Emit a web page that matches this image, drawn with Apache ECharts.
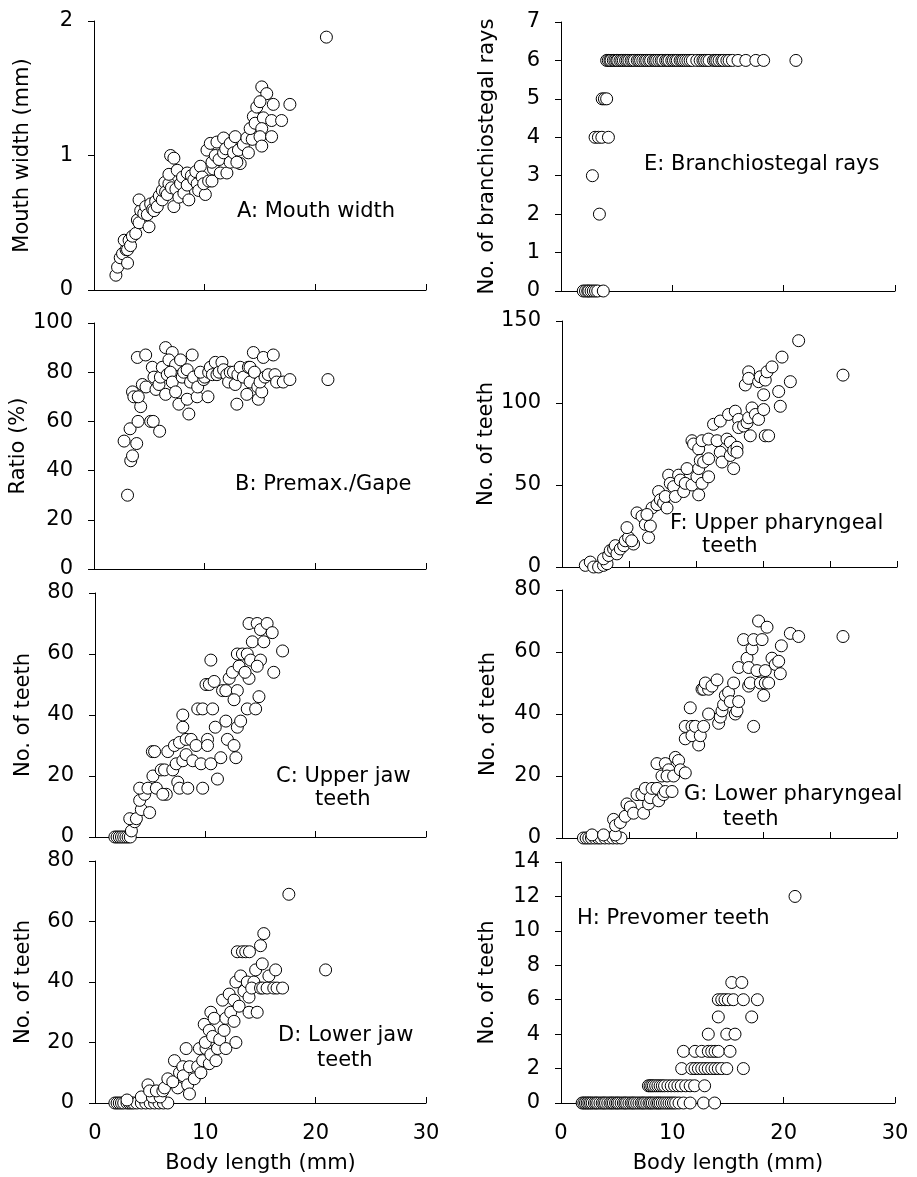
<!DOCTYPE html>
<html>
<head>
<meta charset="utf-8">
<script src="https://cdn.jsdelivr.net/npm/echarts@6/dist/echarts.min.js"></script>
<style>
  html, body { margin: 0; padding: 0; background: #fff; }
  #chart { width: 917px; height: 1177px; }
</style>
</head>
<body>
<div id="chart"></div>
<script>
// Body length (mm) vs. trait, one [length, value] pair per fish.
const mouthWidth = [
  [1.98,0.11],[2.13,0.17],[2.37,0.24],[2.58,0.27],[3.03,0.20],[2.9,0.30],[2.73,0.37],[3.03,0.30],[3.17,0.37],[3.3,0.33],
  [3.47,0.40],[3.77,0.42],[3.92,0.52],[4.07,0.50],[4.97,0.47],[4.22,0.59],[4.07,0.67],[4.5,0.57],[4.67,0.62],[4.82,0.56],
  [5.12,0.64],[5.3,0.60],[5.42,0.59],[5.57,0.66],[5.72,0.62],[5.9,0.70],[6.17,0.67],[6.17,0.74],[6.4,0.80],[6.47,0.73],
  [6.62,0.71],[6.77,0.79],[7.0,0.76],[7.22,0.62],[6.77,0.86],[6.92,1.00],[7.22,0.98],[7.4,0.75],[7.52,0.89],[7.82,0.79],
  [7.67,0.69],[8.0,0.84],[8.12,0.72],[8.42,0.87],[8.57,0.67],[8.42,0.78],[8.8,0.85],[9.02,0.82],[9.2,0.88],[9.32,0.79],
  [9.46,0.74],[9.61,0.92],[9.77,0.84],[10.06,0.71],[9.91,0.79],[10.36,0.81],[10.66,0.81],[10.8,0.90],[10.21,1.04],[10.51,1.09],
  [10.66,0.95],[10.96,1.00],[11.11,1.10],[11.3,0.97],[11.71,1.13],[11.41,0.87],[12.01,0.87],[11.71,1.02],[11.9,1.05],[12.3,0.95],
  [12.31,1.09],[12.76,1.14],[12.61,1.02],[13.05,1.04],[13.21,0.94],[12.91,0.95],[13.5,1.08],[13.95,1.02],[13.81,1.13],[14.3,1.12],
  [14.11,1.20],[14.40,1.29],[14.71,1.36],[14.56,1.24],[15.16,1.51],[15.61,1.46],[15.0,1.40],[16.2,1.38],[15.3,1.28],[16.05,1.26],
  [15.16,1.20],[15.0,1.14],[16.05,1.14],[15.16,1.07],[16.95,1.26],[17.70,1.38],[21.0,1.88]
];

const premaxGape = [
  [3.03,30],[3.32,44],[3.48,46],[2.72,52],[3.86,51],[3.26,57],[3.98,60],[5.12,60],[5.35,60],[5.93,56],
  [4.22,66],[3.48,72],[3.6,70],[4.0,70],[4.37,75],[4.7,74],[3.92,86],[4.67,87],[5.27,82],[5.42,78],
  [5.6,73],[5.87,75],[6.0,78],[6.17,82],[6.47,90],[7.07,88],[6.77,85],[7.37,83],[7.82,85],[8.87,87],
  [6.62,79],[6.9,80],[7.07,76],[6.47,71],[7.37,72],[7.67,67],[8.57,63],[8.42,69],[7.97,78],[8.1,80],
  [8.42,81],[8.72,76],[9.0,78],[9.32,70],[9.37,74],[9.91,77],[10.0,78],[10.3,70],[9.61,80],[10.36,80],
  [10.51,82],[10.7,79],[10.96,84],[11.11,79],[11.3,80],[11.56,84],[11.71,81],[12.0,79],[12.16,76],[12.31,80],
  [12.6,80],[12.91,67],[12.76,75],[13.0,79],[13.21,82],[13.5,78],[13.81,71],[13.95,82],[14.1,82],[14.40,88],
  [14.1,76],[14.5,80],[14.8,74],[14.85,69],[15.16,72],[15.0,76],[15.45,78],[15.3,86],[16.2,87],[15.75,79],
  [16.35,79],[16.5,76],[17.1,76],[17.7,77],[21.14,77]
];

const upperJawTeeth = [
  [1.8,0],[2.0,0],[2.2,0],[2.4,0],[2.6,0],[2.8,0],[3.0,0],[3.2,0],
  [3.3,2],[3.6,5],[3.15,6],[3.75,6],[4.2,9],[4.95,8],[4.05,12],[4.5,14],[4.05,16],[4.8,16],[5.56,16],[5.25,20],
  [6.0,22],[6.3,22],[6.46,14],[6.15,14],[5.2,28],[5.4,28],[6.6,28],[7.05,22],[7.36,24],[7.5,18],
  [7.2,30],[7.66,31],[7.96,25],[7.66,16],[8.41,16],[7.96,36],[7.96,40],[8.26,32],[8.71,32],[8.26,27],
  [8.86,25],[9.16,30],[9.61,24],[9.76,16],[9.31,42],[9.76,42],[10.66,42],[10.2,32],[10.2,30],[10.5,24],
  [10.9,36],[11.1,19],[11.4,26],[11.86,38],[12.0,32],[12.6,30],[12.77,26],[12.9,36],[13.2,38],[13.8,42],
  [14.56,42],[14.86,46],[10.06,50],[10.36,50],[10.8,51],[11.56,48],[11.86,48],[12.16,52],[12.46,54],[12.9,48],
  [12.6,45],[13.06,56],[13.96,52],[13.6,54],[12.9,60],[13.36,60],[13.8,60],[14.26,64],[14.1,58],[15.0,58],
  [14.7,56],[15.3,64],[13.96,70],[14.7,70],[15.0,68],[15.6,70],[16.06,67],[16.2,54],[17.0,61],[10.5,58]
];

const lowerJawTeeth = [
  [1.8,0],[2.0,0],[2.2,0],[2.4,0],[2.6,0],[2.9,0],[3.1,0],[3.3,0],[3.5,0],[3.8,0],
  [4.2,0],[4.6,0],[5.0,0],[5.4,0],[5.8,0],[6.2,0],[6.6,0],
  [2.9,1],[4.2,2],[5.2,2],[5.9,2],[4.8,6],[4.95,4],[5.56,4],[6.15,4],[6.3,5],[6.6,8],[7.5,5],
  [7.2,14],[7.05,7],[7.66,10],[7.96,12],[8.0,9],[8.26,18],[8.4,6],[8.56,3],[8.56,12],[9.0,8],
  [9.3,12],[9.46,18],[9.6,10],[10.06,18],[9.76,14],[10.36,13],[10.5,16],[10.96,14],[11.1,18],[10.0,20],
  [9.9,26],[10.36,24],[10.66,22],[10.5,30],[10.8,28],[11.3,21],[11.7,24],[11.86,18],[12.77,20],[11.56,34],
  [12.16,36],[11.86,28],[12.3,30],[12.6,34],[12.6,27],[13.06,32],[12.77,40],[13.2,42],[13.5,37],[13.96,30],
  [14.7,30],[13.96,35],[13.8,40],[14.4,40],[14.2,38],[14.56,44],[15.0,38],[15.2,38],[15.6,38],[15.16,46],
  [15.76,42],[16.2,38],[16.5,38],[16.37,44],[17.0,38],[12.9,50],[13.36,50],[13.66,50],[14.0,50],[15.0,52],
  [15.3,56],[17.57,69],[20.9,44]
];

const branchiostegalRays = [
  [2.0,0],[2.2,0],[2.4,0],[2.5,0],[2.7,0],[2.9,0],[3.1,0],[3.3,0],[3.8,0],
  [3.45,2],[2.82,3],[3.06,4],[3.36,4],[3.67,4],[4.26,4],[3.7,5],[3.9,5],[4.1,5],
  [4.1,6],[4.25,6],[4.4,6],[4.5,6],[4.7,6],[4.85,6],[5.0,6],[5.1,6],[5.3,6],[5.45,6],
  [5.6,6],[5.8,6],[5.95,6],[6.1,6],[6.3,6],[6.45,6],[6.6,6],[6.85,6],[7.0,6],[7.15,6],
  [7.35,6],[7.55,6],[7.7,6],[7.9,6],[8.05,6],[8.3,6],[8.45,6],[8.6,6],[8.8,6],[9.0,6],
  [9.15,6],[9.4,6],[9.55,6],[9.7,6],[9.95,6],[10.1,6],[10.3,6],[10.45,6],[10.7,6],[10.85,6],
  [11.0,6],[11.2,6],[11.4,6],[11.6,6],[11.8,6],[12.2,6],[12.5,6],[12.75,6],[12.9,6],[13.1,6],
  [13.3,6],[13.7,6],[13.85,6],[14.0,6],[14.2,6],[14.45,6],[14.6,6],[14.9,6],[15.1,6],[15.4,6],
  [15.9,6],[16.6,6],[17.5,6],[18.2,6],[21.1,6]
];

const upperPharyngealTeeth = [
  [1.74,1],[2.11,3],[2.36,0],[2.73,0],[3.1,1],[3.36,2],[3.1,5],[3.48,7],[3.6,10],[3.85,11],
  [3.98,13],[4.1,8],[4.35,11],[4.6,13],[4.72,16],[5.34,14],[4.97,18],[5.2,16],[4.85,24],[5.6,33],
  [5.97,31],[6.22,26],[6.46,18],[6.59,25],[6.72,36],[6.34,32],[7.09,38],[7.21,46],[7.34,41],[7.58,39],
  [7.84,36],[7.71,43],[7.96,56],[8.08,51],[8.33,49],[8.46,43],[8.7,56],[8.83,53],[9.08,46],[9.2,51],
  [9.33,60],[9.7,50],[10.07,55],[10.2,44],[10.2,60],[10.45,51],[10.94,55],[9.7,77],[9.82,75],[10.2,72],
  [10.45,77],[10.32,65],[10.57,64],[10.94,66],[10.94,78],[11.31,87],[11.57,77],[11.81,89],[11.81,70],[11.94,64],
  [12.43,93],[12.31,78],[12.56,76],[12.56,68],[12.81,71],[13.06,73],[13.06,70],[12.81,60],[12.93,95],[13.18,90],
  [13.18,85],[13.55,86],[13.81,88],[14.05,80],[13.93,91],[14.18,97],[14.43,93],[14.67,90],[15.17,80],[15.42,80],
  [15.05,96],[15.05,105],[13.68,111],[13.93,119],[13.93,115],[14.67,113],[14.8,116],[15.17,114],[15.3,119],[15.67,122],
  [16.17,107],[16.29,98],[16.42,128],[17.04,113],[17.66,138],[20.97,117]
];

const lowerPharyngealTeeth = [
  [1.6,0],[1.8,0],[2.0,0],[2.2,0],[2.45,0],[2.7,0],[2.9,0],[3.2,0],[3.5,0],[3.8,0],[4.1,0],[4.4,0],
  [2.24,1],[3.1,1],[3.98,1],[3.85,6],[4.0,4],[4.35,5],[4.72,7],[4.85,11],[5.1,10],[5.34,8],
  [5.6,14],[5.97,14],[6.09,8],[6.22,16],[6.46,11],[6.59,13],[6.72,16],[7.09,16],[7.21,12],[7.58,14],
  [7.71,15],[8.21,15],[7.09,24],[7.46,20],[7.71,24],[7.96,22],[7.84,20],[8.33,20],[8.46,26],[8.7,25],
  [8.83,22],[9.2,21],[9.57,42],[9.2,36],[9.2,32],[9.7,36],[9.7,33],[9.95,36],[10.2,30],[10.32,33],
  [10.57,36],[10.94,40],[10.45,48],[10.57,48],[10.94,48],[10.7,50],[11.19,49],[11.57,51],[11.69,37],[11.81,39],
  [11.94,41],[12.06,43],[12.19,46],[12.43,47],[12.56,44],[12.81,50],[12.93,40],[13.06,41],[13.18,44],[13.18,55],
  [13.55,64],[13.81,58],[13.93,55],[14.18,61],[13.93,49],[14.05,50],[14.3,36],[14.3,64],[14.67,70],[14.93,64],
  [15.3,68],[14.55,54],[14.8,50],[15.05,46],[15.17,54],[15.17,50],[15.42,50],[15.67,58],[15.92,56],[16.17,57],
  [16.29,53],[16.37,62],[17.04,66],[17.66,65],[20.97,65]
];

const prevomerTeeth = [
  [1.9,0],[2.05,0],[2.2,0],[2.35,0],[2.5,0],[2.65,0],[2.8,0],[3.0,0],[3.15,0],[3.3,0],
  [3.5,0],[3.7,0],[3.85,0],[4.0,0],[4.2,0],[4.4,0],[4.55,0],[4.7,0],[4.9,0],[5.05,0],
  [5.2,0],[5.4,0],[5.6,0],[5.75,0],[5.9,0],[6.1,0],[6.3,0],[6.45,0],[6.6,0],[6.8,0],
  [7.0,0],[7.2,0],[7.35,0],[7.5,0],[7.7,0],[7.9,0],[8.05,0],[8.2,0],[8.4,0],[8.6,0],
  [8.75,0],[8.9,0],[9.1,0],[9.3,0],[9.5,0],[9.7,0],[9.9,0],[10.1,0],[10.3,0],[10.6,0],
  [11.0,0],[11.6,0],[12.8,0],[13.8,0],
  [7.85,1],[8.0,1],[8.15,1],[8.3,1],[8.5,1],[8.7,1],[8.9,1],[9.1,1],[9.3,1],[9.6,1],
  [9.9,1],[10.2,1],[10.5,1],[10.8,1],[11.2,1],[11.6,1],[12.0,1],[12.9,1],
  [10.84,2],[11.74,2],[12.04,2],[12.34,2],[12.64,2],[12.94,2],[13.23,2],[13.54,2],[13.84,2],[14.13,2],
  [14.44,2],[14.89,2],[16.38,2],
  [11.0,3],[12.04,3],[12.64,3],[13.23,3],[13.54,3],[13.84,3],[14.13,3],[15.18,3],
  [13.23,4],[14.89,4],[15.63,4],
  [14.13,5],[17.13,5],
  [14.13,6],[14.44,6],[14.73,6],[15.03,6],[15.48,6],[16.38,6],[17.64,6],
  [15.34,7],[16.24,7],
  [21.02,12]
];

const yTitles = ['Mouth width (mm)', 'Ratio (%)', 'No. of teeth', 'No. of teeth',
                 'No. of branchiostegal rays', 'No. of teeth', 'No. of teeth', 'No. of teeth'];
const xTitle = 'Body length (mm)';

const FONT = 'DejaVu Sans';
const FS = 21;

const panels = [
  { data: mouthWidth,           grid: { left: 94,  top: 21,  width: 332, height: 269 }, xMax: 30, xInt: 10, yMax: 2,   yInt: 1,  bottom: false },
  { data: premaxGape,           grid: { left: 94,  top: 323, width: 332, height: 246 }, xMax: 30, xInt: 10, yMax: 100, yInt: 20, bottom: false },
  { data: upperJawTeeth,        grid: { left: 95,  top: 593, width: 331, height: 244 }, xMax: 30, xInt: 10, yMax: 80,  yInt: 20, bottom: false },
  { data: lowerJawTeeth,        grid: { left: 95,  top: 861, width: 331, height: 242 }, xMax: 30, xInt: 10, yMax: 80,  yInt: 20, bottom: true },
  { data: branchiostegalRays,   grid: { left: 561, top: 22,  width: 334, height: 269 }, xMax: 30, xInt: 10, yMax: 7,   yInt: 1,  bottom: false },
  { data: upperPharyngealTeeth, grid: { left: 562, top: 321, width: 335, height: 246 }, xMax: 25, xInt: 5,  yMax: 150, yInt: 50, bottom: false },
  { data: lowerPharyngealTeeth, grid: { left: 562, top: 590, width: 335, height: 248 }, xMax: 25, xInt: 5,  yMax: 80,  yInt: 20, bottom: false },
  { data: prevomerTeeth,        grid: { left: 561, top: 862, width: 334, height: 241 }, xMax: 30, xInt: 10, yMax: 14,  yInt: 2,  bottom: true }
];

// Panel captions: [text, left x, middle y]
const captions = [
  ['A: Mouth width', 237, 212],
  ['B: Premax./Gape', 235, 485],
  ['C: Upper jaw', 276, 777], ['teeth', 315, 800],
  ['D: Lower jaw', 278, 1036], ['teeth', 317, 1061],
  ['E: Branchiostegal rays', 644, 165],
  ['F: Upper pharyngeal', 670, 524], ['teeth', 702, 547],
  ['G: Lower pharyngeal', 684, 795], ['teeth', 723, 820],
  ['H: Prevomer teeth', 577, 919]
];

const lineStyle = { color: '#000', width: 1 };

const option = {
  animation: false,
  backgroundColor: '#fff',
  textStyle: { fontFamily: FONT, color: '#000' },
  grid: panels.map(p => Object.assign({ containLabel: false }, p.grid)),
  xAxis: panels.map((p, i) => ({
    type: 'value', gridIndex: i, min: 0, max: p.xMax, interval: p.xInt,
    axisLine: { show: true, lineStyle },
    axisTick: { show: true, inside: true, length: 6, lineStyle },
    splitLine: { show: false },
    axisLabel: { show: p.bottom, margin: 20, fontSize: FS, fontFamily: FONT, color: '#000' },
    name: p.bottom ? xTitle : '',
    nameLocation: 'middle', nameGap: 50,
    nameTextStyle: { fontSize: FS, fontFamily: FONT, color: '#000' }
  })),
  yAxis: panels.map((p, i) => ({
    type: 'value', gridIndex: i, min: 0, max: p.yMax, interval: p.yInt,
    axisLine: { show: true, lineStyle },
    axisTick: { show: true, inside: false, length: 6, lineStyle },
    splitLine: { show: false },
    axisLabel: { margin: 21, fontSize: FS, fontFamily: FONT, color: '#000' },
    name: yTitles[i],
    nameLocation: 'middle', nameGap: i < 4 ? 61 : 63,
    nameTextStyle: { fontSize: FS, fontFamily: FONT, color: '#000' }
  })),
  series: panels.map((p, i) => ({
    type: 'scatter', xAxisIndex: i, yAxisIndex: i,
    data: p.data, symbol: 'circle', symbolSize: 12, clip: false,
    itemStyle: { color: '#fff', borderColor: '#000', borderWidth: 1, opacity: 1 },
    emphasis: { disabled: true }
  })),
  graphic: captions.map(c => ({
    type: 'text', x: c[1], y: c[2], z: 10,
    style: {
      text: c[0], fill: '#000',
      font: FS + 'px "' + FONT + '"',
      textAlign: 'left', textVerticalAlign: 'middle', verticalAlign: 'middle'
    }
  }))
};

const chart = echarts.init(document.getElementById('chart'), null, { renderer: 'canvas' });
chart.setOption(option);
</script>
</body>
</html>
